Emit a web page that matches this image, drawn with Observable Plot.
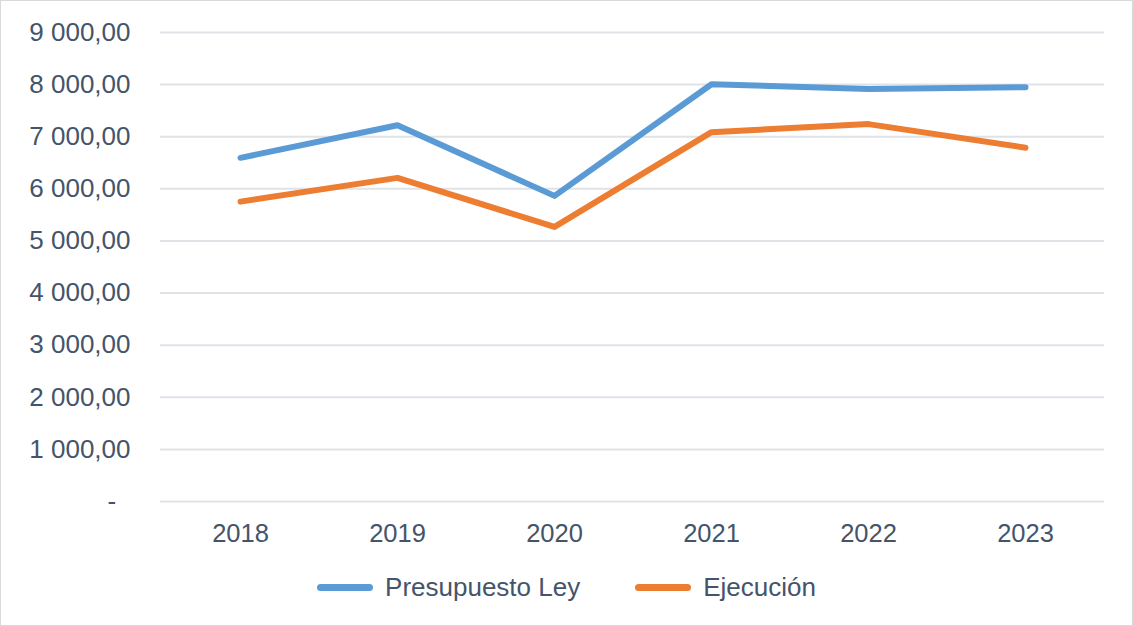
<!DOCTYPE html>
<html>
<head>
<meta charset="utf-8">
<script src="https://cdn.jsdelivr.net/npm/d3@7"></script>
<script src="https://cdn.jsdelivr.net/npm/@observablehq/plot@0.6"></script>
<style>
  html, body { margin: 0; padding: 0; background: #fff; }
  #wrap { position: relative; width: 1133px; height: 626px; font-family: "Liberation Sans", Arial, sans-serif; color: #44546a; overflow: hidden; }
  #border { position: absolute; left: 0; top: 0; width: 1133px; height: 626px; box-sizing: border-box; border: 1px solid #d9d9d9; pointer-events: none; }
  #legend { height: 64px; display: flex; justify-content: center; align-items: center; font-size: 26px; color: #44546a; }
  .item { display: flex; align-items: center; }
  .sw { width: 56px; height: 7px; border-radius: 3.5px; margin-right: 12px; }
  svg text { fill: #44546a; }
</style>
</head>
<body>
<div id="wrap">
  <div id="chart"></div>
  <div id="legend"></div>
  <div id="border"></div>
</div>
<script>
const years = ["2018", "2019", "2020", "2021", "2022", "2023"];
const presupuestoLey = [6595, 7220, 5865, 8008, 7914, 7950];
const ejecucion = [5755, 6210, 5270, 7088, 7242, 6789];
const seriesNames = ["Presupuesto Ley", "Ejecución"];
const seriesColors = ["#5b9bd5", "#ed7d31"];
const yTicks = [0, 1000, 2000, 3000, 4000, 5000, 6000, 7000, 8000, 9000];

const locale = d3.formatLocale({decimal: ",", thousands: " ", grouping: [3], currency: ["", ""]});
const fmt = locale.format(",.2f");
const yFormat = v => v === 0 ? "-\u00a0\u00a0" : fmt(v);

const data = [];
years.forEach((y, i) => {
  data.push({year: y, value: presupuestoLey[i], series: seriesNames[0]});
});
years.forEach((y, i) => {
  data.push({year: y, value: ejecucion[i], series: seriesNames[1]});
});

const chart = Plot.plot({
  width: 1133,
  height: 555,
  marginLeft: 160,
  marginRight: 29,
  marginTop: 32,
  marginBottom: 54,
  style: {fontFamily: "'Liberation Sans', Arial, sans-serif", fontSize: "26px", color: "#44546a", background: "transparent"},
  x: {type: "point", domain: years, padding: 0.5, label: null},
  y: {domain: [0, 9000], label: null},
  color: {domain: seriesNames, range: seriesColors},
  marks: [
    Plot.gridY(yTicks, {stroke: "#dfe3e8", strokeOpacity: 1, strokeWidth: 2}),
    Plot.axisY(yTicks, {tickSize: 0, tickPadding: 30, tickFormat: yFormat, fontSize: 26, label: null}),
    Plot.axisX(years, {tickSize: 0, tickPadding: 22, fontSize: 25.5, label: null}),
    Plot.line(data, {x: "year", y: "value", z: "series", stroke: "series", strokeWidth: 6, strokeLinecap: "round", strokeLinejoin: "round"})
  ]
});
document.getElementById("chart").appendChild(chart);

const legend = document.getElementById("legend");
seriesNames.forEach((name, i) => {
  const item = document.createElement("div");
  item.className = "item";
  if (i > 0) item.style.marginLeft = "55px";
  const sw = document.createElement("div");
  sw.className = "sw";
  sw.style.background = seriesColors[i];
  const t = document.createElement("span");
  t.textContent = name;
  item.appendChild(sw);
  item.appendChild(t);
  legend.appendChild(item);
});
</script>
</body>
</html>
